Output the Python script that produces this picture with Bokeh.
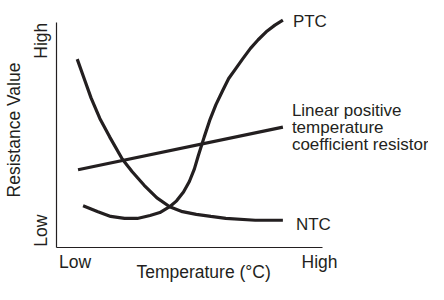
from bokeh.plotting import figure
from bokeh.models import Range1d, FixedTicker, ColumnDataSource
from bokeh.core.properties import value
from bokeh.embed import file_html
from bokeh.resources import INLINE

# ---- data (relative units: temperature 0..10, resistance 0..10) ----
ntc_temp = [0.78, 1.04, 1.30, 1.63, 2.00, 2.48, 2.85, 3.30, 3.78, 4.26,
            4.74, 5.26, 5.81, 6.37, 7.48, 8.52]
ntc_res = [8.36, 7.50, 6.64, 5.73, 4.91, 3.92, 3.36, 2.76, 2.20, 1.81,
           1.59, 1.47, 1.38, 1.29, 1.21, 1.21]

ptc_temp = [1.00, 1.56, 2.04, 2.56, 3.04, 3.52, 3.89, 4.26, 4.52, 4.78,
            5.00, 5.19, 5.33, 5.56, 5.78, 6.00, 6.26, 6.48, 6.74, 7.00,
            7.30, 7.59, 7.93, 8.22, 8.52]
ptc_res = [1.85, 1.59, 1.38, 1.29, 1.29, 1.42, 1.55, 1.81, 2.07, 2.46,
           2.93, 3.49, 4.05, 4.91, 5.69, 6.34, 6.98, 7.50, 7.93, 8.36,
           8.84, 9.22, 9.61, 9.87, 10.09]

lin_temp = [0.81, 8.52]
lin_res = [3.45, 5.34]

curve_names = ["PTC", "Linear positive\ntemperature\ncoefficient resistor", "NTC"]

x_tick_values = [0.7, 9.9]
x_tick_labels = ["Low", "High"]
y_tick_values = [0.75, 9.18]
y_tick_labels = ["Low", "High"]

x_title = "Temperature (°C)"
y_title = "Resistance Value"

INK = "#231f20"
FONT = "Liberation Sans"
FS = "17.5px"

p = figure(width=428, height=284, x_range=Range1d(0, 14), y_range=Range1d(0, 10.43),
           output_backend="svg", toolbar_location=None,
           min_border_left=50, min_border_top=12, min_border_right=0, min_border_bottom=30)
p.grid.visible = False
p.outline_line_color = None

for ax in (p.xaxis[0], p.yaxis[0]):
    ax.bounds = (0, 10)
    ax.axis_line_color = INK
    ax.axis_line_width = 1.2
    ax.major_tick_line_color = None
    ax.minor_tick_line_color = None
    ax.major_tick_out = 0
    ax.major_tick_in = 0
    ax.minor_tick_out = 0
    ax.major_label_text_font = FONT
    ax.major_label_text_font_size = FS
    ax.major_label_text_color = INK
    ax.axis_label_text_font = FONT
    ax.axis_label_text_font_size = FS
    ax.axis_label_text_font_style = "normal"
    ax.axis_label_text_color = INK

p.xaxis.ticker = FixedTicker(ticks=x_tick_values)
p.xaxis.major_label_overrides = dict(zip(x_tick_values, x_tick_labels))
# the frame runs on under the curve names, so the title is padded on its
# right with no-break spaces to sit centred under the drawn axis line
p.xaxis.axis_label = x_title + "\u00a0" * 16
p.xaxis.major_label_standoff = 4
p.xaxis.axis_label_standoff = -13

p.yaxis.ticker = FixedTicker(ticks=y_tick_values)
p.yaxis.major_label_overrides = dict(zip(y_tick_values, y_tick_labels))
p.yaxis.major_label_orientation = "parallel"
p.yaxis.axis_label = y_title
p.yaxis.major_label_standoff = 5
p.yaxis.axis_label_standoff = 5

lw = 3.2
p.line(ntc_temp, ntc_res, line_width=lw, line_color=INK)
p.line(ptc_temp, ptc_res, line_width=lw, line_color=INK)
p.line(lin_temp, lin_res, line_width=lw, line_color=INK)

labels = ColumnDataSource(dict(
    x=[ptc_temp[-1], lin_temp[-1], ntc_temp[-1]],
    y=[ptc_res[-1], lin_res[-1], ntc_res[-1]],
    text=curve_names,
    dx=[10, 9, 13],
    dy=[1.5, 0, 4],
))
p.text(x="x", y="y", text="text", x_offset="dx", y_offset="dy", source=labels,
       text_align="left", text_baseline="middle", text_font=value(FONT),
       text_font_size="17px", text_color=INK, text_line_height=0.9)

open("out.html", "w").write(file_html(p, INLINE))
